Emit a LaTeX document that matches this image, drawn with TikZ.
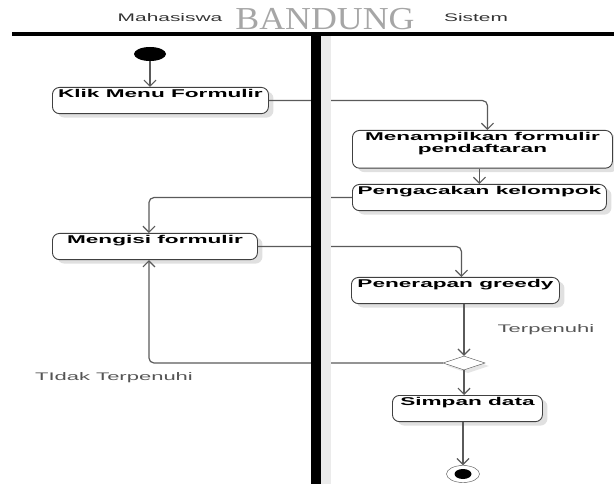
\documentclass[tikz,border=0pt]{standalone}
\usepackage{fontspec}
\usepackage{tikz}
\usepackage{xcolor}
\usetikzlibrary{arrows.meta, calc, positioning, shapes.geometric, shadows}

\newfontfamily\actfont[FakeStretch=2.0]{Liberation Sans}
\newfontfamily\lanefont[FakeStretch=1.9]{Liberation Sans}
\newfontfamily\wmfont[FakeStretch=1.12]{Liberation Serif}
\definecolor{linegray}{HTML}{5A5A5A}
\definecolor{txtgray}{HTML}{555555}

\begin{document}
\begin{tikzpicture}[x=1pt, y=-1pt,
  act/.style={draw=black!75, fill=white, rounded corners=7pt, line width=0.9pt,
    inner xsep=4pt, inner ysep=2pt, text depth=14pt, anchor=north west, align=center,
    font=\actfont\bfseries\fontsize{11.3}{9.5}\selectfont,
    drop shadow={shadow xshift=5pt, shadow yshift=-4pt, fill=black!12, opacity=1}},
  flow/.style={draw=linegray, line width=1.2pt, rounded corners=5pt,
    -{Straight Barb[length=6pt, width=12pt]}},
  guard/.style={font=\actfont\fontsize{11}{13}\selectfont, text=txtgray, anchor=base},
  lane/.style={font=\lanefont\fontsize{11}{13}\selectfont, text=black!80, anchor=base}]
\useasboundingbox (0,0) rectangle (614,484);

% Header
\node[anchor=base, font=\wmfont\fontsize{32}{32}\selectfont, text=black!35] (bdg) at (325,30) {BANDUNG};
\node[lane] (mhs) at (170,22) {Mahasiswa};
\node[lane] (sis) at (476,22) {Sistem};

% Start / end
\node[fill=black, ellipse, minimum width=32pt, minimum height=14pt, inner sep=0pt] (start) at (150,54) {};
\node[draw=black!70, fill=white, ellipse, minimum width=33pt, minimum height=17pt, inner sep=0pt] (fin) at (463,474) {};
\fill (fin.center) ellipse (8.5pt and 5pt);

% Activities
\node[act, minimum width=216pt] (klik) at (52,87) {Klik Menu Formulir};
\node[act, minimum width=260pt] (menam) at (352,130) {Menampilkan formulir\\pendaftaran};
\node[act, minimum width=254pt] (acak) at (352,184) {Pengacakan kelompok};
\node[act, minimum width=205pt] (isi) at (52,233) {Mengisi formulir};
\node[act, minimum width=208pt] (greedy) at (351,277) {Penerapan greedy};
\node[act, minimum width=150pt] (simpan) at (392,395) {Simpan data};

% Decision
\node[draw=black!70, fill=white, diamond, aspect=3, minimum width=42pt, minimum height=14pt,
  inner sep=0pt, drop shadow={shadow xshift=4pt, shadow yshift=-3pt, fill=black!10, opacity=1}] (dec) at (464,363) {};
\node[guard] (ok) at (546,332) {Terpenuhi};
\node[guard] (notok) at (114,380) {TIdak Terpenuhi};

% Flow
\draw[flow] (start.south) -- (start.south |- klik.north);
\draw[flow] (klik.east) -| ([xshift=5pt]menam.north);
\draw[flow] (menam.south -| acak.north) -- (acak.north);
\draw[flow] (acak.west) -| ([xshift=-6pt]isi.north);
\draw[flow] (isi.east) -| ([xshift=6pt]greedy.north);
\draw[flow] (greedy.south -| dec.north) -- (dec.north);
\draw[flow] (dec.west) -| ([xshift=-6pt]isi.south);
\draw[flow] (dec.south) -- (dec.south |- simpan.north);
\draw[flow] (simpan.south -| fin.north) -- (fin.north);

% Swimlanes
\fill[black!8] (321,36) rectangle (331,484);
\draw[line width=4pt] (12,34) -- (614,34);
\fill[black] (311,34) rectangle (321,484);
\end{tikzpicture}
\end{document}
